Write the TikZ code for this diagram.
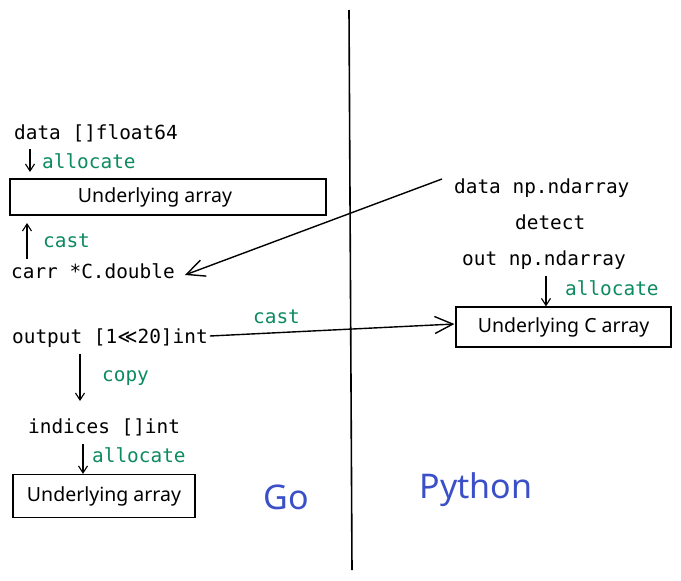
\documentclass[tikz,border=0pt]{standalone}
\usepackage{fontspec}
\setmonofont{DejaVu Sans Mono}
\newfontfamily\handfont{Noto Sans}
\newfontfamily\symfont{DejaVu Sans}
\usetikzlibrary{arrows.meta}
\definecolor{labelgreen}{HTML}{0C8A60}
\definecolor{langblue}{HTML}{3B4FC8}
\begin{document}
\begin{tikzpicture}[x=1pt,y=-1pt,
  code/.style={font=\ttfamily\fontsize{19.4}{21}\selectfont, inner sep=0pt, anchor=west},
  verb/.style={code, text=labelgreen},
  arraybox/.style={draw=black, line width=1.2pt, inner sep=0pt, font=\handfont\fontsize{19.5}{21}\selectfont},
  lang/.style={font=\handfont\fontsize{34}{36}\selectfont, text=langblue, inner sep=0pt},
  flow/.style={line width=1.1pt, -{Straight Barb[length=7pt,width=9pt]}},
  bigflow/.style={line width=1.4pt, -{Straight Barb[length=18pt,width=17pt]}}]
\useasboundingbox (0,0) rectangle (681,581);

% dividing line between the two runtimes
\coordinate (divtop) at (349,10);
\coordinate (divbot) at (352,570);
\draw[line width=1.6pt] (divtop) -- (divbot);

% ---- Go side ----
\node[code] (gdata) at (14,133) {data []float64};
\node[verb] (galloc1) at (42,161) {allocate};
\node[arraybox, minimum width=316pt, minimum height=36pt] (garr1) at (168,197) {Underlying array\rule{26pt}{0pt}};
\node[verb] (gcast) at (43,241) {cast};
\node[code] (gcarr) at (11,271) {carr *C.double};
\node[code] (gout) at (12,338) {output [1{\symfont ≪}20]int};
\node[verb] (gcopy) at (102,378) {copy};
\node[code] (gidx) at (28,427) {indices []int};
\node[verb] (galloc2) at (92,455) {allocate};
\node[arraybox, minimum width=182pt, minimum height=43pt] (garr2) at (104,496) {Underlying array};
\node[lang] (go) at (286,497) {Go};

% ---- Python side ----
\node[code] (pdata) at (454,188) {data np.ndarray};
\node[code] (pdetect) at (515,222) {detect};
\node[code] (pout) at (462,260) {out np.ndarray};
\node[verb] (palloc) at (565,288) {allocate};
\node[arraybox, minimum width=215pt, minimum height=40pt] (parr) at (563.5,327) {Underlying C array};
\node[verb] (pcast) at (253,317) {cast};
\node[lang] (py) at (476,490) {Python};

% ---- connector ends ----
\coordinate (a1s) at (30,149);
\coordinate (a1e) at (30,172);
\coordinate (a2s) at (27,259);
\coordinate (a2e) at (27,223);
\coordinate (a3s) at (80,354);
\coordinate (a3e) at (80,401);
\coordinate (a4s) at (83,444);
\coordinate (a5s) at (546,276);

% ---- connectors ----
\draw[flow] (a1s) -- (a1e);
\draw[flow] (a2s) -- (a2e);
\draw[flow] (a3s) -- (a3e);
\draw[flow] (a4s) -- (a4s |- garr2.north);
\draw[flow] (a5s) -- (a5s |- parr.north);
\draw[bigflow] ([xshift=-12pt,yshift=9pt]pdata.west) -- ([xshift=10pt,yshift=-4pt]gcarr.east);
\draw[bigflow] ([xshift=2pt,yshift=2pt]gout.east) -- ([xshift=-1pt,yshift=3pt]parr.west);
\end{tikzpicture}
\end{document}
